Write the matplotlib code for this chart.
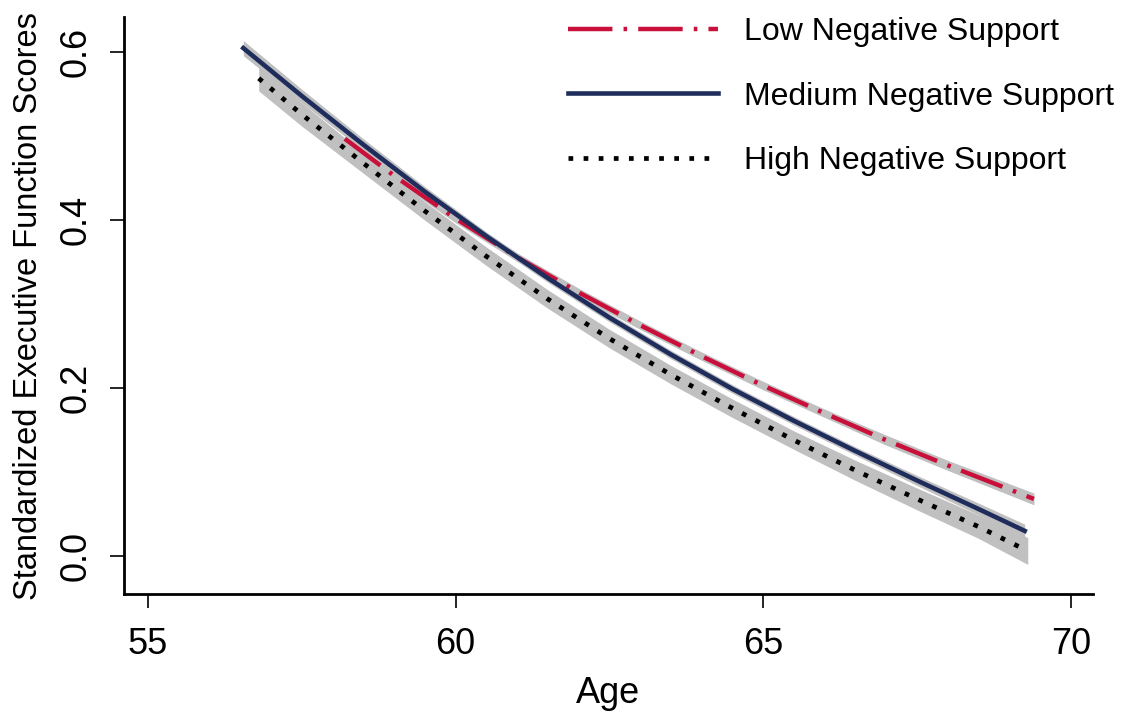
import matplotlib
matplotlib.use('Agg')
import matplotlib.pyplot as plt

plt.rcParams['font.family'] = ['Liberation Sans', 'DejaVu Sans']

# predicted scores by age
age_low = [58.2, 59.0, 60.0, 61.0, 62.0, 63.0, 64.0, 65.0, 66.0, 67.0, 68.0, 69.4]
score_low = [0.497, 0.453, 0.402, 0.356, 0.314, 0.275, 0.238, 0.203, 0.170, 0.138, 0.108, 0.068]
ci_low = [0.006, 0.005, 0.005, 0.005, 0.005, 0.005, 0.005, 0.005, 0.005, 0.006, 0.006, 0.007]

age_med = [56.55, 57.5, 58.5, 59.5, 60.5, 61.5, 62.5, 63.5, 64.5, 65.5, 66.5, 67.5, 68.5, 69.25]
score_med = [0.605, 0.548, 0.490, 0.434, 0.381, 0.331, 0.284, 0.240, 0.199, 0.161, 0.125, 0.090, 0.056, 0.030]
ci_med = [0.009, 0.008, 0.007, 0.006, 0.005, 0.005, 0.005, 0.005, 0.005, 0.005, 0.005, 0.006, 0.007, 0.008]

age_high = [56.8, 57.5, 58.5, 59.5, 60.5, 61.5, 62.5, 63.5, 64.5, 65.5, 66.5, 67.5, 68.5, 69.3]
score_high = [0.569, 0.526, 0.468, 0.411, 0.357, 0.306, 0.259, 0.216, 0.176, 0.138, 0.102, 0.068, 0.035, 0.006]
ci_high = [0.015, 0.014, 0.012, 0.011, 0.011, 0.011, 0.011, 0.011, 0.011, 0.011, 0.012, 0.013, 0.014, 0.016]

fig = plt.figure(figsize=(11.31, 7.2), dpi=100)
ax = fig.add_axes([0.1096, 0.175, 0.8568, 0.801])

band = '#C0C0C0'
series = [
    (age_low, score_low, ci_low, 'Low Negative Support',
     dict(color='#C8103A', lw=3.2, linestyle=(0, (10, 2.5, 0.8, 2.5)))),
    (age_med, score_med, ci_med, 'Medium Negative Support',
     dict(color='#1F2D5C', lw=3.3, linestyle='-')),
    (age_high, score_high, ci_high, 'High Negative Support',
     dict(color='black', lw=3.4, linestyle=(0, (1, 2.2)), dash_capstyle='butt')),
]
for x, y, ci, name, style in series:
    lo = [a - b for a, b in zip(y, ci)]
    hi = [a + b for a, b in zip(y, ci)]
    ax.fill_between(x, lo, hi, color=band, lw=0)
    ax.plot(x, y, label=name, **style)

ax.set_xlim(54.61, 70.36)
ax.set_ylim(-0.0452, 0.6417)
ax.set_xticks([55, 60, 65, 70])
ax.set_yticks([0.0, 0.2, 0.4, 0.6])
ax.set_yticklabels(['0.0', '0.2', '0.4', '0.6'])

for s in ['top', 'right']:
    ax.spines[s].set_visible(False)
for s in ['left', 'bottom']:
    ax.spines[s].set_linewidth(2.0)

ax.tick_params(axis='both', direction='out', length=10, width=1.2, labelsize=26)
ax.tick_params(axis='x', pad=14)
ax.tick_params(axis='y', pad=12, labelrotation=90)
for lab in ax.get_yticklabels():
    lab.set_va('center')

ax.set_xlabel('Age', fontsize=26)
ax.set_ylabel('Standardized Executive Function Scores', fontsize=23.5)
ax.xaxis.set_label_coords(0.5, -0.142)
ax.yaxis.set_label_coords(-0.083, 0.5)

ax.legend(loc='upper left', bbox_to_anchor=(568 / 1131, 1 - 17 / 720),
          bbox_transform=fig.transFigure, frameon=False, fontsize=23,
          handlelength=4.7, handletextpad=0.8, labelspacing=1.08,
          borderpad=0, borderaxespad=0)

fig.savefig('out.png', dpi=100)
